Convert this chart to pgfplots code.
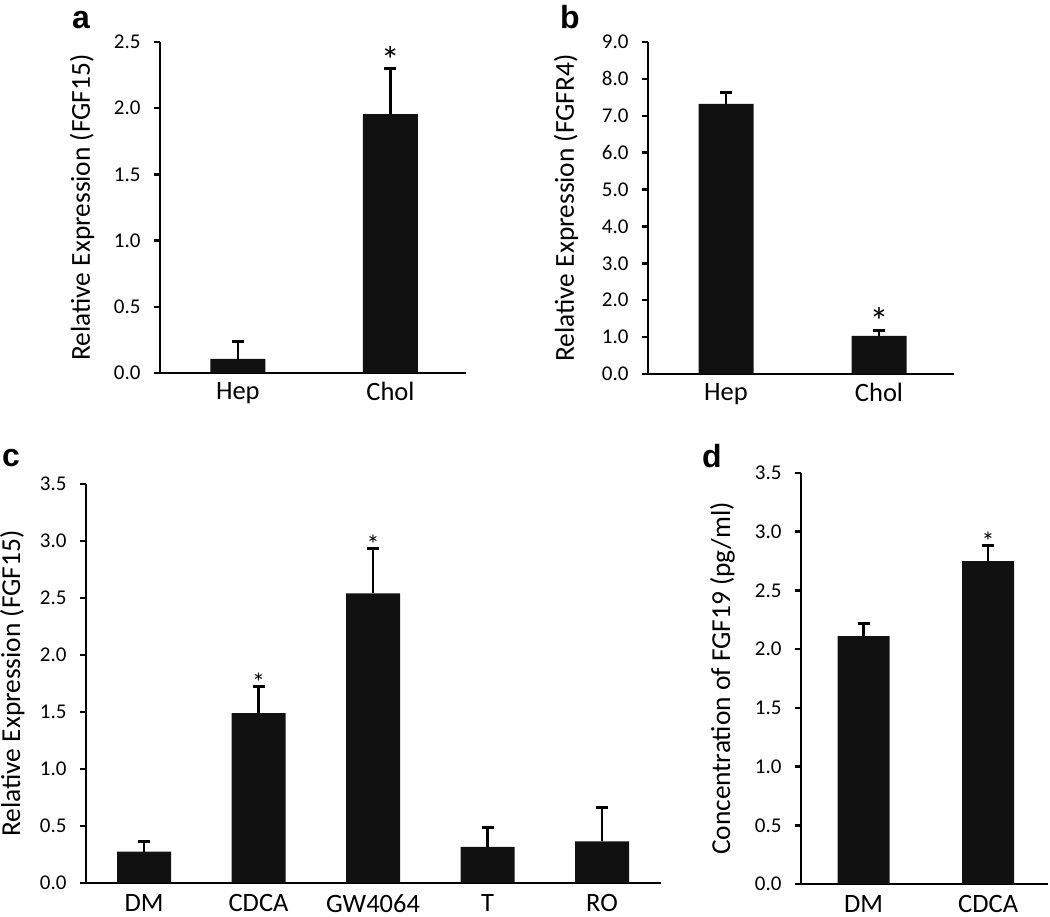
\documentclass[border=0pt]{standalone}
\usepackage{pgfplots}
\pgfplotsset{compat=1.18}
\usepackage{fontspec}
\setmainfont{Carlito}
\newfontfamily\arialf{Liberation Sans}
\definecolor{barc}{HTML}{111111}
\pgfplotsset{
  panel/.style={
    scale only axis,
    anchor=south west,
    clip=false,
    axis x line*=bottom,
    axis y line*=left,
    axis line style={line width=2.8pt, black},
    ymin=0,
    tick align=outside,
    major tick length=6pt,
    y tick style={line width=2.5pt, black},
    x tick style={draw=none},
    /pgf/number format/assume math mode=true,
    yticklabel style={font=\fontsize{21}{25}\selectfont, xshift=-10pt, /pgf/number format/.cd, fixed, fixed zerofill, precision=1},
    xticklabel style={font=\fontsize{26.5}{31}\selectfont},
    ylabel style={anchor=center, font=\fontsize{27.4}{32}\selectfont},
    xtick={0,1},
  },
  bars/.style={
    ybar, fill=barc, draw=none, bar width=#1,
    error bars/.cd, y dir=plus, y explicit, error mark=|,
    error bar style={line width=2.6pt, black},
    error mark options={line width=3pt, mark size=6pt, black},
  },
  star/.style={
    draw=none, mark=none, nodes near coords={*},
    every node near coord/.append style={anchor=base, text=black, font=\fontsize{#1}{#1}\selectfont},
  },
}
\begin{document}
\begin{tikzpicture}
\useasboundingbox (0,0) rectangle (1050pt,917pt);
% panel letters
\node[anchor=base west, inner sep=0pt, font=\arialf\bfseries\fontsize{32}{32}\selectfont] at (72pt,888pt) {a};
\node[anchor=base west, inner sep=0pt, font=\arialf\bfseries\fontsize{32}{32}\selectfont] at (560pt,888pt) {b};
\node[anchor=base west, inner sep=0pt, font=\arialf\bfseries\fontsize{32}{32}\selectfont] at (2pt,450pt) {c};
\node[anchor=base west, inner sep=0pt, font=\arialf\bfseries\fontsize{32}{32}\selectfont] at (702pt,449pt) {d};

% ---- a
\begin{axis}[panel, at={(160pt,544pt)}, width=306pt, height=331pt,
  xmin=-0.51, xmax=1.495, ymax=2.5, ytick={0,0.5,1,1.5,2,2.5},
  xticklabels={Hep,Chol},
  ylabel={Relative Expression (FGF15)},
  ylabel style={at={(axis description cs:-0.255,0.5)}}]
\addplot[bars=55pt] coordinates {(0,0.106) +- (0,0.134) (1,1.956) +- (0,0.344)};
\addplot[star=38, every node near coord/.append style={yshift=-5pt}] coordinates {(1,2.30)};
\end{axis}

% ---- b
\begin{axis}[panel, at={(648pt,543pt)}, width=306pt, height=332pt,
  xmin=-0.51, xmax=1.49, ymax=9, ytick={0,1,2,3,4,5,6,7,8,9},
  xticklabels={Hep,Chol},
  ylabel={Relative Expression (FGFR4)},
  ylabel style={at={(axis description cs:-0.268,0.5)}}]
\addplot[bars=55pt] coordinates {(0,7.32) +- (0,0.32) (1,1.03) +- (0,0.16)};
\addplot[star=38, every node near coord/.append style={yshift=-4pt}] coordinates {(1,1.19)};
\end{axis}

% ---- c
\begin{axis}[panel, at={(86pt,34pt)}, width=575pt, height=399pt,
  xmin=-0.507, xmax=4.515, ymax=3.5, ytick={0,0.5,1,1.5,2,2.5,3,3.5},
  xtick={0,1,2,3,4},
  xticklabels={DM,CDCA,GW4064,T,RO},
  xticklabel style={inner sep=0pt, yshift=-5pt},
  ylabel={Relative Expression (FGF15)},
  ylabel style={at={(axis description cs:-0.128,0.5)}}]
\addplot[bars=54pt] coordinates {(0,0.275) +- (0,0.085) (1,1.49) +- (0,0.23) (2,2.54) +- (0,0.39) (3,0.316) +- (0,0.17) (4,0.366) +- (0,0.294)};
\addplot[star=26, every node near coord/.append style={yshift=-5pt}] coordinates {(1,1.72) (2,2.93)};
\end{axis}

% ---- d
\begin{axis}[panel, at={(801pt,33pt)}, width=247pt, height=411pt,
  xmin=-0.502, xmax=1.48, ymax=3.5, ytick={0,0.5,1,1.5,2,2.5,3,3.5},
  xticklabels={DM,CDCA},
  xticklabel style={inner sep=0pt, yshift=-5pt},
  ylabel={Concentration of FGF19 (pg/ml)},
  ylabel style={at={(axis description cs:-0.318,0.5)}}]
\addplot[bars=52pt] coordinates {(0,2.11) +- (0,0.11) (1,2.75) +- (0,0.13)};
\addplot[star=26, every node near coord/.append style={yshift=-5pt}] coordinates {(1,2.88)};
\end{axis}
\end{tikzpicture}
\end{document}
